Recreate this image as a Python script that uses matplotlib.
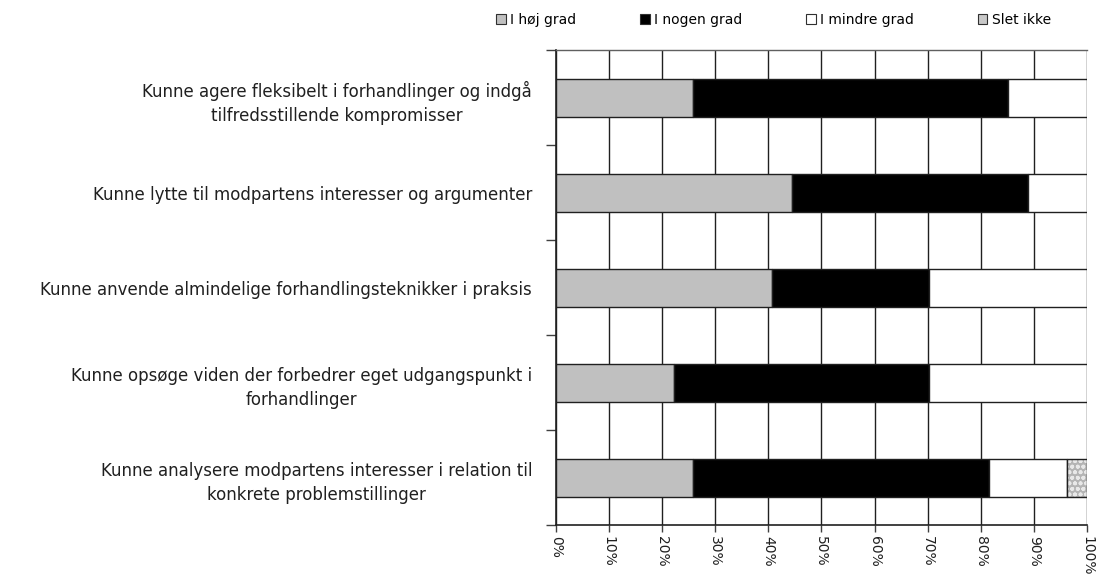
import matplotlib
matplotlib.use("Agg")
import matplotlib.pyplot as plt
import numpy as np
from matplotlib.patches import Patch

categories = [
    "Kunne agere fleksibelt i forhandlinger og indgå\ntilfredsstillende kompromisser",
    "Kunne lytte til modpartens interesser og argumenter",
    "Kunne anvende almindelige forhandlingsteknikker i praksis",
    "Kunne opsøge viden der forbedrer eget udgangspunkt i\nforhandlinger",
    "Kunne analysere modpartens interesser i relation til\nkonkrete problemstillinger",
]
series_names = ["I høj grad", "I nogen grad", "I mindre grad", "Slet ikke"]
hoj = [25.9, 44.4, 40.7, 22.2, 25.9]
nogen = [59.3, 44.4, 29.6, 48.1, 55.6]
mindre = [14.8, 11.1, 29.6, 29.6, 14.8]
slet = [0.0, 0.0, 0.0, 0.0, 3.7]
xticklabels = ["0%", "10%", "20%", "30%", "40%", "50%", "60%", "70%", "80%", "90%", "100%"]

plt.rcParams['font.family'] = ['DejaVu Sans']
plt.rcParams['hatch.linewidth'] = 1.2

fig = plt.figure(figsize=(10.97, 5.77), dpi=100)
ax = fig.add_axes([0.5065, 0.090, 0.4845, 0.823])

n = len(categories)
y = np.arange(n)
h = 0.4
edge = '#202020'
left = np.zeros(n)
ax.barh(y, hoj, left=left, height=h, color='#c0c0c0', edgecolor=edge, linewidth=1, zorder=3)
left += hoj
ax.barh(y, nogen, left=left, height=h, color='black', edgecolor=edge, linewidth=1, zorder=3)
left += np.array(nogen)
ax.barh(y, mindre, left=left, height=h, color='white', edgecolor=edge, linewidth=1, zorder=3)
left += np.array(mindre)
sl = np.array(slet)
mask = sl > 0
ax.barh(y[mask], sl[mask], left=left[mask], height=h, color='#b4b4b4', edgecolor='#e8e8e8',
        hatch='ooo', linewidth=0, zorder=3)
ax.barh(y[mask], sl[mask], left=left[mask], height=h, fill=False, edgecolor=edge,
        linewidth=1, zorder=4)

ax.set_xlim(0, 100)
ax.set_ylim(n - 0.5, -0.5)
ax.set_xticks(np.arange(0, 101, 10))
ax.set_xticklabels(xticklabels, rotation=-90, fontsize=10, color='#202020')
ax.tick_params(axis='x', length=5, width=1, color='#404040', pad=3)
ax.grid(axis='x', color='#202020', linewidth=1, zorder=1)

ax.set_yticks(y)
ax.set_yticklabels(categories, fontsize=12, color='#202020', multialignment='center',
                   linespacing=1.45)
ax.tick_params(axis='y', which='major', length=0, pad=17)
ax.set_yticks(np.arange(-0.5, n, 1), minor=True)
ax.tick_params(axis='y', which='minor', length=7, width=1, color='#404040')

for s in ['left', 'bottom']:
    ax.spines[s].set_color('#202020')
    ax.spines[s].set_linewidth(1.2)
ax.spines['top'].set_color('#606060')
ax.spines['top'].set_linewidth(1)
ax.spines['right'].set_visible(False)

handles = [
    Patch(facecolor='#c0c0c0', edgecolor='#303030', linewidth=0.8),
    Patch(facecolor='black', edgecolor='#303030', linewidth=0.8),
    Patch(facecolor='white', edgecolor='#303030', linewidth=0.8),
    Patch(facecolor='#c8c8c8', edgecolor='#303030', linewidth=0.8),
]
fig.legend(handles, series_names, loc='center', bbox_to_anchor=(0.705, 0.965), ncol=4,
           frameon=False, fontsize=10, handlelength=0.7, handleheight=0.7,
           handletextpad=0.3, columnspacing=4.6)

fig.savefig('out.png', dpi=100)
